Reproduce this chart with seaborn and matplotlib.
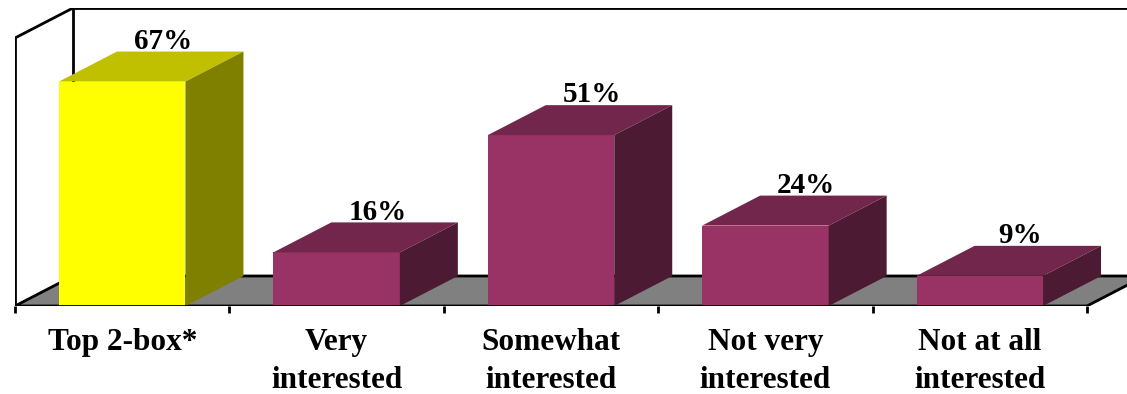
import numpy as np
import matplotlib
matplotlib.use("Agg")
import matplotlib.pyplot as plt
from matplotlib.patches import Polygon
import seaborn as sns

# Survey results
categories = ["Top 2-box*", "Very\ninterested", "Somewhat\ninterested",
              "Not very\ninterested", "Not at all\ninterested"]
values = [67, 16, 51, 24, 9]
value_labels = ["67%", "16%", "51%", "24%", "9%"]

# Face shading for the pseudo-3D columns (front / top / side)
front_colors = ["#FFFF00", "#993366", "#993366", "#993366", "#993366"]
top_colors = ["#C0C000", "#73264C", "#73264C", "#73264C", "#73264C"]
side_colors = ["#808000", "#4D1A33", "#4D1A33", "#4D1A33", "#4D1A33"]

sns.set_style("white")
plt.rcParams["font.family"] = ["Liberation Serif", "DejaVu Serif"]
plt.rcParams["text.color"] = "black"
plt.rcParams["xtick.color"] = "black"

W, H = 1127, 394
fig = plt.figure(figsize=(W / 100, H / 100), dpi=100)

# Geometry of the chart box (pixels)
left_px, bottom_px, top_px = 15, 88, 386
px_per_cat = 214.4
px_per_pct = 3.35
ax = fig.add_axes([left_px / W, bottom_px / H,
                   (W - left_px) / W, (top_px - bottom_px) / H])

n = len(categories)
wall_top = 80
dx = 58 / px_per_cat      # depth offset along x
dy = 30 / px_per_pct      # depth offset along y
x0, x1 = -0.5, n - 0.5
bar_w = 0.59
lw = 2.0

sns.barplot(x=categories, y=values, hue=categories, palette=front_colors,
            saturation=1, width=bar_w, legend=False, ax=ax, zorder=3,
            linewidth=0)
bars = list(ax.patches)

# Floor
floor = Polygon([(x0, 0), (x1, 0), (x1 + dx, dy), (x0 + dx, dy)],
                closed=True, facecolor="#808080", edgecolor="black",
                linewidth=lw, zorder=1)
ax.add_patch(floor)

# Side wall and back wall outlines
k = dict(color="black", linewidth=lw, zorder=1.5, solid_capstyle="projecting")
ax.plot([x0, x0], [0, wall_top], **k)
ax.plot([x0, x0 + dx], [wall_top, wall_top + dy], **k)
ax.plot([x0 + dx, x0 + dx], [dy, wall_top + dy], **k)
ax.plot([x0 + dx, x1 + 2 * dx], [wall_top + dy, wall_top + dy], **k)
# front floor edge drawn over the columns
ax.plot([x0, x1], [0, 0], color="black", linewidth=lw, zorder=5)

# Top and side faces of each column, plus value labels
for i, bar in enumerate(bars):
    xl = bar.get_x()
    xr = xl + bar.get_width()
    h = bar.get_height()
    top = Polygon([(xl, h), (xr, h), (xr + dx, h + dy), (xl + dx, h + dy)],
                  closed=True, facecolor=top_colors[i], edgecolor="none", zorder=3)
    side = Polygon([(xr, 0), (xr, h), (xr + dx, h + dy), (xr + dx, dy)],
                   closed=True, facecolor=side_colors[i], edgecolor="none", zorder=3)
    ax.add_patch(top)
    ax.add_patch(side)
    ax.text((xl + xr) / 2 + 0.19, h + dy + 0.8, value_labels[i],
            ha="center", va="baseline", fontsize=21, fontweight="bold",
            color="black", zorder=6)

ax.set_xlim(x0, x0 + (W - left_px) / px_per_cat)
ax.set_ylim(0, (top_px - bottom_px) / px_per_pct)
ax.set_yticks([])
ax.set_xlabel("")
ax.set_ylabel("")
for s in ax.spines.values():
    s.set_visible(False)

ax.set_xticks(range(n))
ax.set_xticklabels(categories, fontsize=22.5, fontweight="bold",
                   linespacing=1.42, color="black")
ax.set_xticks(np.arange(x0, x1 + 0.01, 1), minor=True)
ax.tick_params(axis="x", which="major", length=0, pad=16)
ax.tick_params(axis="x", which="minor", length=5, width=lw, direction="out",
               bottom=True, color="black")
ax.patch.set_alpha(0)

fig.savefig("out.png", dpi=100)
